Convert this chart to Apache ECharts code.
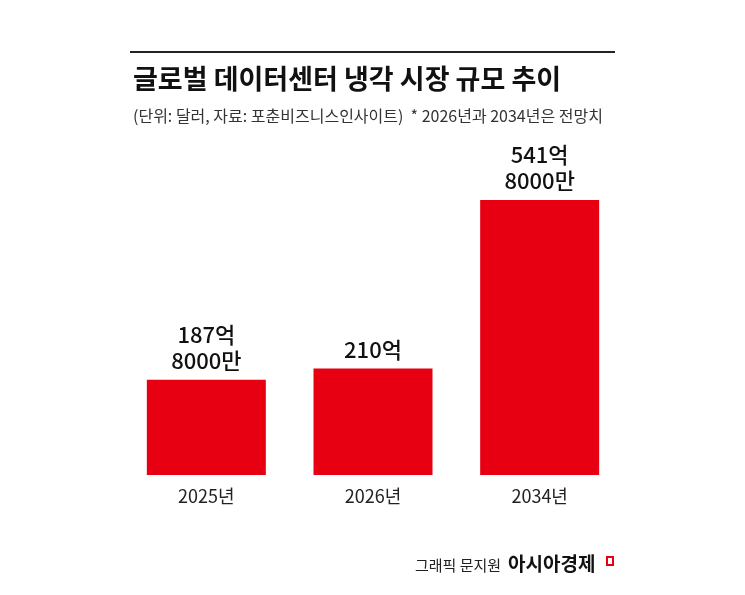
<!DOCTYPE html>
<html><head><meta charset="utf-8">
<script src="https://cdn.jsdelivr.net/npm/echarts@6/dist/echarts.min.js"></script>
<style>html,body{margin:0;background:#fff}#c{width:745px;height:595px}</style>
</head><body><div id="c"></div>
<script>
// 연도별 시장 규모 (억 달러)
const years = ['2025년', '2026년', '2034년'];
const values = [187.8, 210, 541.8];
const valueLabels = ['187억\n8000만', '210억', '541억\n8000만'];

const chart = echarts.init(document.getElementById('c'));
const font = '"Noto Sans CJK KR", sans-serif';
chart.setOption({
  animation: false,
  title: [{
    text: '글로벌 데이터센터 냉각 시장 규모 추이',
    left: 128, top: 60,
    textStyle: { fontFamily: font, fontSize: 27, fontWeight: 'bold', color: '#111' }
  }, {
    text: '(단위: 달러, 자료: 포춘비즈니스인사이트)  * 2026년과 2034년은 전망치',
    left: 128, top: 103,
    textStyle: { fontFamily: font, fontSize: 16, fontWeight: 'normal', color: '#333' }
  }],
  graphic: [
    { type: 'line', shape: { x1: 130, y1: 52, x2: 615, y2: 52 }, style: { stroke: '#222', lineWidth: 2 } },
    { type: 'text', left: 415, top: 558, style: { text: '그래픽 문지원', font: '15px "Noto Sans CJK KR"', fill: '#222' } },
    { type: 'text', left: 508, top: 554, style: { text: '아시아경제', font: 'bold 19px "Noto Sans CJK KR"', fill: '#111' } },
    { type: 'rect', shape: { x: 607, y: 557, width: 6, height: 8 }, style: { fill: 'none', stroke: '#e60012', lineWidth: 2 } }
  ],
  grid: { left: 123, right: 122, top: 200, bottom: 120 },
  xAxis: {
    type: 'category', data: years,
    axisLine: { show: false }, axisTick: { show: false },
    axisLabel: { fontFamily: font, fontSize: 18, color: '#222', margin: 12 }
  },
  yAxis: { type: 'value', min: 0, max: 541.8, show: false, splitLine: { show: false } },
  series: [{
    type: 'bar', data: values, barWidth: 119,
    itemStyle: { color: '#e60012' },
    label: {
      show: true, position: 'top', distance: 6,
      formatter: p => valueLabels[p.dataIndex],
      fontFamily: font, fontSize: 22, fontWeight: 500, color: '#111', lineHeight: 26
    }
  }]
});
</script></body></html>
